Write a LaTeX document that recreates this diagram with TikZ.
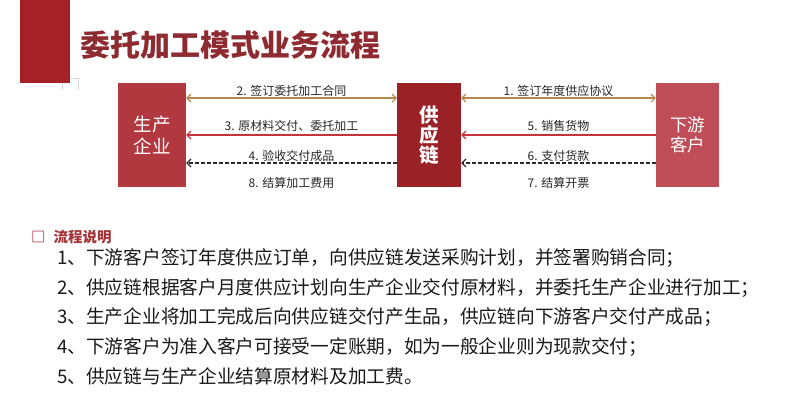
\documentclass[tikz,border=0pt]{standalone}
\usepackage{fontspec}
\setmainfont{Noto Sans CJK SC}
\usetikzlibrary{arrows.meta,positioning}

\definecolor{barred}{HTML}{A42127}
\definecolor{titlered}{HTML}{8E2B31}
\definecolor{makerred}{HTML}{B1383F}
\definecolor{chainred}{HTML}{9A2227}
\definecolor{buyerred}{HTML}{C04E58}
\definecolor{dealgold}{HTML}{B7874B}
\definecolor{goodsred}{HTML}{C8323A}
\definecolor{paydark}{HTML}{2B2B2B}
\definecolor{notered}{HTML}{A3343A}

\tikzset{
	party/.style={minimum height=104pt, inner sep=0pt, text=white, align=center},
	flowlabel/.style={font=\fontsize{12}{14}\selectfont, text=black!85, inner sep=1pt},
	deal/.style={<->, draw=dealgold, line width=1.1pt},
	goods/.style={->, draw=goodsred, line width=1.1pt},
	pay/.style={->, draw=paydark, line width=1.2pt, dash pattern=on 4pt off 2pt},
	noteline/.style={anchor=west, inner sep=0pt, text=black!90, font=\fontsize{18.7}{20}\selectfont}
}

\begin{document}
\begin{tikzpicture}[>={Straight Barb[length=4pt,width=8pt]}, x=1pt, y=-1pt]
	\useasboundingbox (0,0) rectangle (798,410);
	
	\draw[gray!35, thin] (62,90) -- (62,78) -- (78,78) -- (78,90);
	\fill[barred] (20,0) rectangle (70,83);
	\node[anchor=west, inner sep=0pt, text=titlered, font=\fontsize{30}{34}\selectfont\bfseries] (title) at (80,45) {委托加工模式业务流程};
	
	\node[party, fill=makerred, minimum width=68pt, font=\fontsize{18.5}{22}\selectfont] (maker) at (152,135) {\raisebox{-4pt}{生产}\\\raisebox{-4pt}{企业}};
	\node[party, fill=chainred, minimum width=64pt, font=\fontsize{19.5}{20}\selectfont\bfseries] (chain) at (429,135) {\raisebox{-2pt}{供}\\\raisebox{-2pt}{应}\\\raisebox{-2pt}{链}};
	\node[party, fill=buyerred, minimum width=63pt, font=\fontsize{17.5}{20}\selectfont] (buyer) at (687.5,135) {\raisebox{-3pt}{下游}\\\raisebox{-3pt}{客户}};
	
	\draw[deal] ([yshift=37pt]maker.east) -- ([yshift=37pt]chain.west) node[midway, above, flowlabel] {2. 签订委托加工合同};
	\draw[goods] (chain.west) -- (maker.east) node[midway, above=2pt, flowlabel] {3. 原材料交付、委托加工};
	\draw[pay] ([yshift=-28pt]chain.west) -- ([yshift=-28pt]maker.east) node[midway, above, flowlabel] {4. 验收交付成品};
	\path ([yshift=-48pt]maker.east) -- ([yshift=-48pt]chain.west) node[midway, flowlabel] (fee) {8. 结算加工费用};
	
	\draw[deal] ([yshift=37pt]chain.east) -- ([yshift=37pt]buyer.west) node[midway, above, flowlabel] {1. 签订年度供应协议};
	\draw[goods] (buyer.west) -- (chain.east) node[midway, above=2pt, flowlabel] {5. 销售货物};
	\draw[pay] ([yshift=-28pt]buyer.west) -- ([yshift=-28pt]chain.east) node[midway, above, flowlabel] {6. 支付货款};
	\path ([yshift=-48pt]chain.east) -- ([yshift=-48pt]buyer.west) node[midway, flowlabel] (bill) {7. 结算开票};
	
	\node[anchor=west, inner sep=0pt, text=notered, font=\fontsize{14.5}{16}\selectfont\bfseries] (notehead) at (31,237) {□\hspace{8pt}流程说明};
	\node[noteline] (note1) at (57,258) {1、下游客户签订年度供应订单，向供应链发送采购计划，并签署购销合同；};
	\node[noteline] (note2) at (57,288) {2、供应链根据客户月度供应计划向生产企业交付原材料，并委托生产企业进行加工；};
	\node[noteline] (note3) at (57,317) {3、生产企业将加工完成后向供应链交付产生品，供应链向下游客户交付产成品；};
	\node[noteline] (note4) at (57,347) {4、下游客户为准入客户可接受一定账期，如为一般企业则为现款交付；};
	\node[noteline] (note5) at (57,376) {5、供应链与生产企业结算原材料及加工费。};
\end{tikzpicture}
\end{document}
